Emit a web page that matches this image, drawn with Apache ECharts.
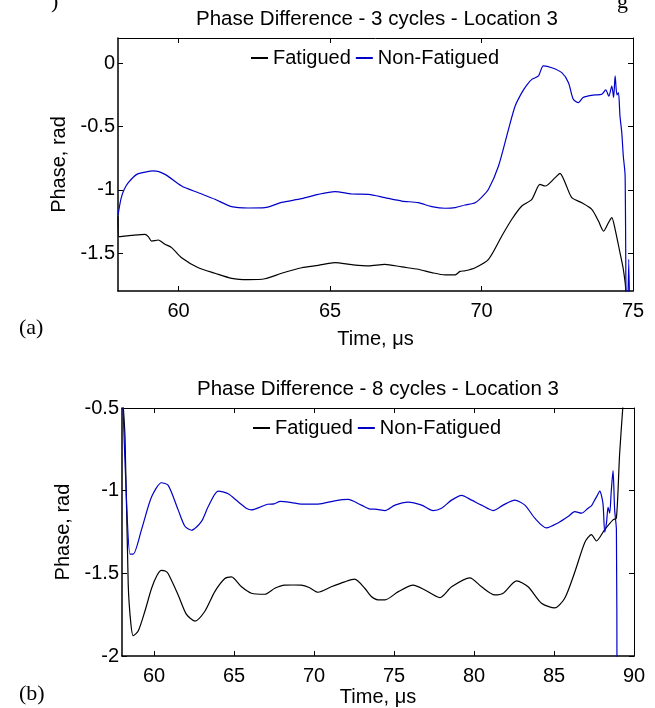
<!DOCTYPE html>
<html>
<head>
<meta charset="utf-8">
<script src="https://cdn.jsdelivr.net/npm/echarts@6/dist/echarts.min.js"></script>
<style>
html,body{margin:0;padding:0;background:#fff;}
#chart{width:655px;height:708px;}
</style>
</head>
<body>
<div id="chart"></div>
<script>
// ---------- Data ----------
// (a) 3 cycles
var a_fat_t = [58.0, 58.03, 58.45, 58.89, 59.0, 59.11, 59.33, 59.55, 59.77, 60.1, 60.65, 61.2, 61.75, 62.3, 62.85, 63.4, 64.06, 64.61, 65.16, 65.72, 66.27, 66.81, 67.37, 67.91, 68.36, 68.8, 69.13, 69.29, 69.46, 69.79, 70.23, 70.67, 71.0, 71.33, 71.66, 71.93, 72.1, 72.43, 72.59, 72.76, 72.98, 73.31, 73.64, 73.86, 74.03, 74.19, 74.3, 74.41, 74.57, 74.68, 74.76, 74.85];
var a_fat_v = [-1.21, -1.37, -1.36, -1.352, -1.37, -1.405, -1.397, -1.43, -1.457, -1.537, -1.616, -1.66, -1.70, -1.71, -1.703, -1.66, -1.616, -1.597, -1.576, -1.592, -1.602, -1.589, -1.61, -1.628, -1.655, -1.673, -1.672, -1.645, -1.64, -1.616, -1.55, -1.365, -1.233, -1.128, -1.075, -0.957, -0.97, -0.904, -0.87, -0.944, -1.062, -1.102, -1.154, -1.247, -1.326, -1.26, -1.22, -1.312, -1.497, -1.628, -1.787, -2.4];
var a_non_t = [58.0, 58.1, 58.2, 58.34, 58.62, 58.9, 59.17, 59.55, 60.1, 60.65, 61.2, 61.75, 62.3, 62.85, 63.4, 64.06, 64.61, 65.16, 65.72, 66.27, 66.81, 67.37, 67.91, 68.36, 68.8, 69.13, 69.45, 69.79, 70.0, 70.23, 70.56, 70.89, 71.11, 71.33, 71.5, 71.66, 71.88, 72.04, 72.32, 72.65, 72.87, 73.03, 73.2, 73.35, 73.53, 73.75, 73.97, 74.1, 74.2, 74.3, 74.36, 74.41, 74.47, 74.52, 74.57, 74.63, 74.68, 74.74, 74.79, 74.86, 74.92];
var a_non_v = [-1.2, -1.07, -1.0, -0.944, -0.878, -0.86, -0.851, -0.878, -0.97, -1.023, -1.075, -1.133, -1.144, -1.141, -1.10, -1.07, -1.036, -1.015, -1.033, -1.036, -1.062, -1.089, -1.102, -1.133, -1.146, -1.141, -1.12, -1.102, -1.06, -0.996, -0.812, -0.522, -0.338, -0.232, -0.17, -0.127, -0.10, -0.021, -0.035, -0.074, -0.153, -0.285, -0.311, -0.27, -0.258, -0.25, -0.245, -0.21, -0.26, -0.18, -0.27, -0.10, -0.25, -0.232, -0.416, -0.55, -0.733, -0.891, -2.5, -1.55, -2.5];
// (b) 8 cycles
var b_fat_t = [58.05, 58.19, 58.39, 58.55, 58.7, 59.02, 59.43, 59.85, 60.2, 60.47, 60.7, 60.89, 61.51, 62.03, 62.56, 63.18, 63.8, 64.43, 64.84, 65.47, 66.09, 66.93, 67.55, 68.17, 68.7, 69.21, 69.7, 70.25, 71.08, 71.92, 72.54, 73.17, 73.58, 74.0, 74.44, 75.27, 76.2, 76.93, 77.87, 78.6, 79.74, 80.47, 81.3, 81.82, 82.66, 83.38, 84.22, 85.05, 85.67, 86.3, 86.92, 87.34, 87.65, 88.17, 88.69, 88.9, 89.1, 89.31, 89.45];
var b_fat_v = [-0.45, -0.68, -1.571, -1.80, -1.877, -1.847, -1.729, -1.59, -1.51, -1.482, -1.485, -1.502, -1.63, -1.748, -1.788, -1.729, -1.61, -1.531, -1.521, -1.581, -1.62, -1.626, -1.59, -1.571, -1.57, -1.571, -1.585, -1.614, -1.581, -1.551, -1.535, -1.59, -1.64, -1.66, -1.66, -1.61, -1.571, -1.6, -1.646, -1.581, -1.527, -1.581, -1.63, -1.62, -1.545, -1.581, -1.68, -1.709, -1.65, -1.492, -1.314, -1.265, -1.304, -1.235, -1.176, -1.166, -0.78, -0.484, -0.3];
var b_non_t = [58.05, 58.29, 58.5, 58.7, 59.22, 59.85, 60.47, 60.89, 61.51, 61.93, 62.34, 62.97, 63.39, 64.01, 64.64, 65.26, 65.8, 66.09, 66.71, 67.1, 67.5, 67.9, 68.6, 69.21, 70.25, 71.3, 72.13, 72.96, 73.58, 73.81, 74.44, 75.06, 75.89, 76.73, 77.45, 77.97, 78.6, 79.22, 79.85, 80.47, 81.2, 81.82, 82.55, 83.18, 83.8, 84.53, 85.25, 85.88, 86.3, 86.71, 87.13, 87.35, 87.54, 87.7, 87.86, 88.06, 88.17, 88.28, 88.38, 88.48, 88.58, 88.69, 88.79, 88.9, 88.94];
var b_non_v = [-0.45, -1.077, -1.383, -1.383, -1.235, -1.037, -0.952, -0.968, -1.116, -1.215, -1.239, -1.185, -1.096, -1.002, -1.018, -1.067, -1.108, -1.116, -1.096, -1.082, -1.08, -1.065, -1.072, -1.081, -1.081, -1.061, -1.053, -1.087, -1.112, -1.112, -1.12, -1.087, -1.069, -1.087, -1.12, -1.106, -1.057, -1.028, -1.057, -1.087, -1.12, -1.087, -1.057, -1.087, -1.166, -1.225, -1.195, -1.156, -1.126, -1.136, -1.106, -1.09, -1.057, -1.03, -1.002, -1.077, -1.25, -1.195, -1.10, -1.136, -1.0, -0.879, -1.116, -1.235, -2.3];

// tick values
var a_xticks = [60, 65, 70, 75];
var a_yticks = [-1.5, -1, -0.5, 0];
var b_xticks = [60, 65, 70, 75, 80, 85, 90];
var b_yticks = [-2, -1.5, -1, -0.5];

var seriesNames = ['Fatigued', 'Non-Fatigued'];
var titles = ['Phase Difference - 3 cycles - Location 3', 'Phase Difference - 8 cycles - Location 3'];
var panelLabels = ['(a)', '(b)'];
var clippedCaption = [')', 'g'];
var xName = 'Time, \u03bcs';
var yName = 'Phase, rad';

// ---------- Chart ----------
function zip(t, v) { return t.map(function (x, i) { return [x, v[i]]; }); }

var FONT = '"Liberation Sans", Arial, sans-serif';
var SERIF = '"Liberation Serif", "Times New Roman", serif';
var BLACK = '#000000';
var BLUE = '#0000c8';

function xAxes(grid, min, max, ticks, nameGap) {
  return [{
    gridIndex: grid, type: 'value', position: 'bottom', min: min, max: max,
    name: xName, nameLocation: 'middle', nameGap: nameGap,
    nameTextStyle: { color: BLACK, fontSize: 20, fontFamily: FONT },
    axisLine: { onZero: false, lineStyle: { color: BLACK, width: 1.5 } },
    axisTick: { inside: true, length: 5, customValues: ticks, lineStyle: { color: BLACK, width: 1 } },
    axisLabel: { customValues: ticks, color: BLACK, fontSize: 20, fontFamily: FONT, margin: 10 },
    splitLine: { show: false }
  }, {
    gridIndex: grid, type: 'value', position: 'top', min: min, max: max,
    axisLine: { onZero: false, lineStyle: { color: BLACK, width: 1 } },
    axisTick: { inside: true, length: 5, customValues: ticks, lineStyle: { color: BLACK, width: 1 } },
    axisLabel: { show: false },
    splitLine: { show: false }
  }];
}
function yAxes(grid, min, max, ticks, nameGap) {
  return [{
    gridIndex: grid, type: 'value', position: 'left', min: min, max: max,
    name: yName, nameLocation: 'middle', nameGap: nameGap,
    nameTextStyle: { color: BLACK, fontSize: 20, fontFamily: FONT },
    axisLine: { show: true, onZero: false, lineStyle: { color: BLACK, width: 1.5 } },
    axisTick: { show: true, inside: true, length: 5, customValues: ticks, lineStyle: { color: BLACK, width: 1 } },
    axisLabel: { customValues: ticks, color: BLACK, fontSize: 20, fontFamily: FONT, margin: 3 },
    splitLine: { show: false }
  }, {
    gridIndex: grid, type: 'value', position: 'right', min: min, max: max,
    axisLine: { show: true, onZero: false, lineStyle: { color: BLACK, width: 1 } },
    axisTick: { show: true, inside: true, length: 5, customValues: ticks, lineStyle: { color: BLACK, width: 1 } },
    axisLabel: { show: false },
    splitLine: { show: false }
  }];
}
function legend(left, top) {
  return {
    left: left, top: top, padding: 0, itemGap: 5, itemWidth: 17, itemHeight: 2,
    icon: 'rect', data: seriesNames,
    textStyle: { color: BLACK, fontSize: 20, fontFamily: FONT, padding: [0, 0, 0, 0] },
    selectedMode: false
  };
}
function line(name, color, xi, yi, data) {
  return {
    name: name, type: 'line', xAxisIndex: xi, yAxisIndex: yi, data: data,
    symbol: 'none', smooth: 0.25, clip: true, animation: false,
    lineStyle: { color: color, width: 1.2 }, itemStyle: { color: color }
  };
}
function titleText(text, left, top, size, family, align) {
  return { text: text, left: left, top: top, textAlign: align || 'left',
    textStyle: { color: BLACK, fontSize: size, fontWeight: 'normal', fontFamily: family } };
}

var chart = echarts.init(document.getElementById('chart'), null, { renderer: 'canvas' });
chart.setOption({
  backgroundColor: '#ffffff',
  animation: false,
  textStyle: { fontFamily: FONT },
  title: [
    titleText(titles[0], 372, 4, 20.5, FONT, 'center'),
    titleText(titles[1], 373, 374, 20.5, FONT, 'center'),
    titleText(panelLabels[0], 14, 312, 22, SERIF),
    titleText(panelLabels[1], 14, 678, 22, SERIF),
    titleText(clippedCaption[0], 46, -14, 22, SERIF),
    titleText(clippedCaption[1], 612, -14, 22, SERIF)
  ],
  legend: [legend(251, 48), legend(253, 418)],
  grid: [
    { left: 118, top: 38, width: 515, height: 253 },
    { left: 122, top: 408, width: 512, height: 253 }
  ],
  xAxis: xAxes(0, 58, 75, a_xticks, 38).concat(xAxes(1, 58, 90, b_xticks, 24)),
  yAxis: yAxes(0, -1.8, 0.2, a_yticks, 40).concat(yAxes(1, -2, -0.5, b_yticks, 40)),
  series: [
    line(seriesNames[0], BLACK, 0, 0, zip(a_fat_t, a_fat_v)),
    line(seriesNames[1], BLUE, 0, 0, zip(a_non_t, a_non_v)),
    line(seriesNames[0], BLACK, 2, 2, zip(b_fat_t, b_fat_v)),
    line(seriesNames[1], BLUE, 2, 2, zip(b_non_t, b_non_v))
  ]
});
</script>
</body>
</html>
